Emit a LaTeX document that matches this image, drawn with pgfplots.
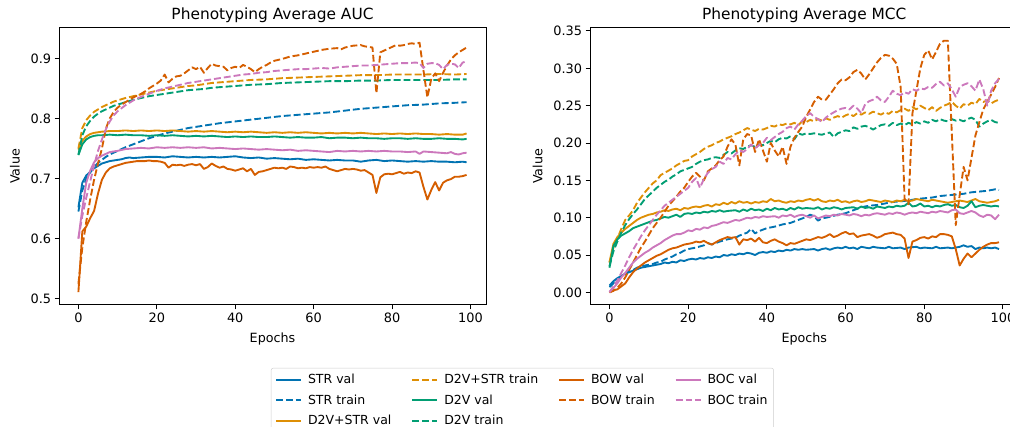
\documentclass[border=0pt]{standalone}
\usepackage{pgfplots}
\pgfplotsset{compat=1.18}
\usepackage{fontspec}
\setmainfont{DejaVu Sans}
\definecolor{cSTR}{HTML}{0173B2}
\definecolor{cDS}{HTML}{DE8F05}
\definecolor{cDV}{HTML}{029E73}
\definecolor{cBOW}{HTML}{D55E00}
\definecolor{cBOC}{HTML}{CC78BC}
\pgfplotsset{
  val/.style={line width=1.875pt, line join=round},
  trn/.style={line width=1.875pt, line join=round, dash pattern=on 6.9pt off 3pt},
  mystyle/.style={
    scale only axis, height=277pt,
    anchor=south west,
    axis line style={line width=1pt, black},
    tick style={line width=1pt, black},
    major tick length=4.4pt,
    tick align=outside, tick pos=left,
    xmin=-4.95, xmax=103.95,
    xtick={0,20,40,60,80,100},
    /pgf/number format/assume math mode=true,
    tick label style={font=\fontsize{12.9}{15}\selectfont},
    label style={font=\fontsize{12.7}{15}\selectfont},
    xlabel style={yshift=-3pt},
    ylabel style={yshift=4pt},
    title style={font=\fontsize{15.4}{18}\selectfont, yshift=-4pt},
    xlabel={Epochs}, ylabel={Value},
    every axis plot/.append style={no markers},
  }
}
\begin{document}
\begin{tikzpicture}[x=1pt,y=1pt]
\useasboundingbox (0,0) rectangle (1010,427);
\clip (0,0) rectangle (1010,427);
\begin{axis}[mystyle, at={(59pt,122pt)}, width=427pt,
  ymin=0.4895, ymax=0.9505, ytick={0.5,0.6,0.7,0.8,0.9},
  yticklabel style={/pgf/number format/.cd, fixed, precision=1},
  title={Phenotyping Average AUC}]
% STR val
\addplot[val, cSTR] coordinates {(0,0.652)(1,0.693)(2,0.705)(3,0.711)(4,0.717)(5,0.721)(6,0.725)(7,0.727)(8,0.729)(9,0.730)(10,0.731)(11,0.732)(12,0.734)(13,0.735)(14,0.734)(16,0.735)(18,0.736)(20,0.736)(22,0.735)(24,0.737)(26,0.736)(28,0.735)(30,0.736)(32,0.735)(34,0.736)(36,0.735)(38,0.736)(40,0.737)(42,0.735)(44,0.734)(46,0.735)(48,0.733)(50,0.734)(52,0.733)(54,0.732)(56,0.733)(58,0.731)(60,0.732)(62,0.731)(64,0.730)(66,0.731)(68,0.730)(70,0.730)(72,0.728)(74,0.730)(76,0.731)(78,0.729)(80,0.730)(82,0.729)(84,0.728)(86,0.729)(88,0.728)(90,0.729)(92,0.728)(94,0.728)(96,0.727)(98,0.728)(99,0.727)};
% STR train
\addplot[trn, cSTR] coordinates {(0,0.645)(1,0.680)(2,0.700)(3,0.710)(4,0.719)(5,0.726)(6,0.731)(7,0.736)(8,0.740)(9,0.743)(10,0.746)(12,0.752)(14,0.757)(16,0.762)(18,0.767)(20,0.771)(22,0.775)(24,0.778)(26,0.781)(28,0.784)(30,0.786)(32,0.788)(34,0.790)(36,0.792)(40,0.795)(44,0.798)(48,0.801)(52,0.804)(56,0.806)(60,0.808)(64,0.810)(68,0.813)(72,0.816)(76,0.818)(80,0.820)(84,0.822)(88,0.823)(92,0.825)(96,0.826)(99,0.827)};
% D2V+STR val
\addplot[val, cDS] coordinates {(0,0.748)(1,0.763)(2,0.770)(3,0.774)(4,0.776)(5,0.777)(6,0.778)(8,0.779)(10,0.779)(12,0.780)(14,0.779)(16,0.780)(18,0.779)(20,0.780)(22,0.779)(24,0.780)(26,0.779)(28,0.778)(30,0.779)(32,0.778)(34,0.779)(36,0.778)(38,0.777)(40,0.778)(42,0.777)(44,0.778)(46,0.777)(48,0.776)(50,0.777)(52,0.776)(54,0.777)(56,0.776)(58,0.777)(60,0.776)(62,0.775)(64,0.776)(66,0.775)(68,0.776)(70,0.775)(72,0.776)(74,0.775)(76,0.774)(78,0.775)(80,0.774)(82,0.775)(84,0.774)(86,0.775)(88,0.774)(90,0.774)(92,0.773)(94,0.774)(96,0.773)(98,0.773)(99,0.775)};
% D2V+STR train
\addplot[trn, cDS] coordinates {(0,0.750)(1,0.784)(2,0.797)(3,0.805)(4,0.811)(5,0.815)(6,0.819)(7,0.822)(8,0.825)(9,0.828)(10,0.830)(12,0.834)(14,0.837)(16,0.840)(18,0.843)(20,0.846)(22,0.848)(24,0.850)(26,0.852)(28,0.854)(30,0.855)(32,0.857)(34,0.859)(36,0.860)(38,0.861)(40,0.862)(44,0.864)(48,0.865)(52,0.867)(56,0.868)(60,0.869)(64,0.870)(68,0.871)(72,0.872)(76,0.872)(80,0.873)(84,0.873)(88,0.873)(92,0.874)(96,0.873)(99,0.874)};
% D2V val
\addplot[val, cDV] coordinates {(0,0.739)(1,0.757)(2,0.765)(3,0.769)(4,0.771)(5,0.772)(6,0.772)(8,0.773)(10,0.772)(12,0.773)(14,0.772)(16,0.772)(18,0.771)(20,0.772)(22,0.771)(24,0.772)(26,0.771)(28,0.770)(30,0.771)(32,0.770)(34,0.771)(36,0.770)(38,0.769)(40,0.770)(42,0.769)(44,0.770)(46,0.769)(48,0.769)(50,0.770)(52,0.769)(54,0.768)(56,0.769)(58,0.768)(60,0.768)(62,0.769)(64,0.767)(66,0.768)(68,0.768)(70,0.767)(72,0.768)(74,0.767)(76,0.767)(78,0.766)(80,0.767)(82,0.767)(84,0.766)(86,0.767)(88,0.766)(90,0.766)(92,0.767)(94,0.766)(96,0.766)(98,0.765)(99,0.766)};
% D2V train
\addplot[trn, cDV] coordinates {(0,0.740)(1,0.772)(2,0.787)(3,0.796)(4,0.803)(5,0.808)(6,0.812)(7,0.815)(8,0.818)(9,0.821)(10,0.823)(12,0.827)(14,0.831)(16,0.834)(18,0.837)(20,0.839)(22,0.841)(24,0.843)(26,0.845)(28,0.847)(30,0.848)(32,0.849)(34,0.851)(36,0.852)(40,0.854)(44,0.856)(48,0.857)(52,0.859)(56,0.860)(60,0.861)(64,0.862)(68,0.862)(72,0.863)(76,0.863)(80,0.864)(84,0.864)(88,0.864)(92,0.864)(96,0.865)(99,0.865)};
% BOW val
\addplot[val, cBOW] coordinates {(0,0.511)(1,0.612)(2,0.620)(3,0.634)(4,0.646)(5,0.675)(6,0.698)(7,0.710)(8,0.717)(9,0.720)(10,0.722)(11,0.724)(12,0.726)(13,0.727)(14,0.728)(15,0.729)(16,0.729)(17,0.729)(18,0.730)(19,0.729)(20,0.729)(21,0.728)(22,0.726)(23,0.718)(24,0.723)(25,0.722)(26,0.723)(27,0.721)(28,0.723)(29,0.724)(30,0.722)(31,0.724)(32,0.716)(33,0.719)(34,0.725)(35,0.721)(36,0.718)(37,0.720)(38,0.716)(39,0.715)(40,0.713)(41,0.715)(42,0.717)(43,0.712)(44,0.716)(45,0.706)(46,0.711)(47,0.712)(48,0.714)(49,0.716)(50,0.718)(51,0.717)(52,0.718)(53,0.716)(54,0.720)(55,0.719)(56,0.717)(57,0.718)(58,0.717)(59,0.719)(60,0.718)(61,0.719)(62,0.718)(63,0.720)(64,0.716)(65,0.714)(66,0.712)(67,0.714)(68,0.716)(69,0.715)(70,0.716)(71,0.715)(72,0.713)(73,0.714)(74,0.710)(75,0.706)(76,0.676)(77,0.702)(78,0.707)(79,0.708)(80,0.707)(81,0.709)(82,0.711)(83,0.708)(84,0.710)(85,0.709)(86,0.712)(87,0.710)(88,0.686)(89,0.665)(90,0.681)(91,0.694)(92,0.680)(93,0.693)(94,0.697)(95,0.699)(96,0.703)(97,0.703)(98,0.704)(99,0.706)};
% BOW train
\addplot[trn, cBOW] coordinates {(0,0.525)(1,0.585)(2,0.628)(3,0.665)(4,0.698)(5,0.725)(6,0.750)(7,0.783)(8,0.800)(9,0.811)(10,0.818)(11,0.823)(12,0.827)(13,0.831)(14,0.835)(15,0.838)(16,0.841)(17,0.845)(18,0.850)(19,0.854)(20,0.858)(21,0.863)(22,0.873)(23,0.860)(24,0.866)(25,0.870)(26,0.871)(27,0.875)(28,0.880)(29,0.885)(30,0.882)(31,0.886)(32,0.876)(33,0.884)(34,0.891)(35,0.888)(36,0.887)(37,0.886)(38,0.880)(39,0.884)(40,0.886)(41,0.884)(42,0.889)(43,0.886)(44,0.882)(45,0.877)(46,0.882)(47,0.886)(48,0.889)(49,0.893)(50,0.896)(52,0.899)(54,0.903)(56,0.905)(58,0.908)(60,0.911)(62,0.914)(64,0.916)(66,0.917)(67,0.915)(68,0.918)(70,0.921)(72,0.922)(73,0.920)(74,0.919)(75,0.918)(76,0.842)(77,0.910)(78,0.913)(79,0.916)(80,0.919)(81,0.922)(82,0.921)(83,0.922)(84,0.924)(85,0.925)(86,0.924)(87,0.926)(88,0.880)(89,0.835)(90,0.866)(91,0.875)(92,0.862)(93,0.876)(94,0.888)(95,0.898)(96,0.905)(97,0.910)(98,0.914)(99,0.918)};
% BOC val
\addplot[val, cBOC] coordinates {(0,0.600)(1,0.650)(2,0.693)(3,0.713)(4,0.727)(5,0.734)(6,0.738)(7,0.741)(8,0.744)(9,0.745)(10,0.746)(12,0.749)(14,0.750)(16,0.751)(18,0.750)(20,0.752)(22,0.751)(24,0.752)(26,0.751)(28,0.752)(30,0.751)(32,0.752)(34,0.750)(36,0.751)(38,0.750)(40,0.749)(42,0.750)(44,0.749)(46,0.748)(48,0.749)(50,0.748)(52,0.747)(54,0.748)(56,0.746)(58,0.747)(60,0.746)(62,0.745)(64,0.744)(66,0.746)(68,0.745)(70,0.746)(72,0.745)(74,0.746)(76,0.745)(78,0.746)(80,0.745)(82,0.745)(84,0.744)(86,0.745)(87,0.741)(88,0.745)(90,0.744)(92,0.743)(94,0.742)(95,0.744)(96,0.741)(97,0.740)(98,0.742)(99,0.743)};
% BOC train
\addplot[trn, cBOC] coordinates {(0,0.600)(1,0.638)(2,0.668)(3,0.695)(4,0.722)(5,0.746)(6,0.765)(7,0.782)(8,0.795)(9,0.805)(10,0.812)(11,0.817)(12,0.822)(13,0.826)(14,0.830)(16,0.836)(18,0.841)(20,0.846)(22,0.850)(24,0.853)(26,0.856)(28,0.859)(30,0.861)(32,0.863)(34,0.865)(36,0.867)(38,0.869)(40,0.871)(42,0.873)(44,0.874)(46,0.876)(48,0.877)(50,0.879)(52,0.880)(54,0.881)(56,0.882)(58,0.882)(60,0.883)(62,0.884)(64,0.883)(66,0.885)(68,0.886)(70,0.887)(72,0.888)(74,0.888)(76,0.889)(78,0.890)(80,0.891)(82,0.892)(84,0.892)(86,0.893)(87,0.892)(88,0.884)(89,0.891)(90,0.892)(91,0.892)(92,0.889)(93,0.882)(94,0.889)(95,0.891)(96,0.890)(97,0.884)(98,0.893)(99,0.895)};
\end{axis}
\begin{axis}[mystyle, at={(590pt,122pt)}, width=428.5pt,
  ymin=-0.0169, ymax=0.354, ytick={0,0.05,0.10,0.15,0.20,0.25,0.30,0.35},
  yticklabel style={/pgf/number format/.cd, fixed, fixed zerofill, precision=2},
  title={Phenotyping Average MCC},
  legend columns=4, legend cell align=left,
  legend image code/.code={\draw[#1] (0pt,0pt) -- (25pt,0pt);},
  legend style={at={(-0.7445,-0.2274)}, anchor=north west, draw=black!20, rounded corners=2pt, fill=white,
    font=\fontsize{12.5}{15}\selectfont, inner xsep=4pt, inner ysep=4pt, row sep=5.5pt,
    /tikz/every odd column/.append style={column sep=4pt},
    /tikz/every even column/.append style={column sep=18pt}}]
% STR val
\addplot[val, cSTR, forget plot] coordinates {(0,0.009)(1,0.015)(2,0.019)(3,0.022)(4,0.025)(5,0.027)(6,0.029)(7,0.031)(8,0.033)(9,0.034)(10,0.035)(11,0.036)(12,0.037)(13,0.038)(14,0.040)(15,0.039)(16,0.041)(17,0.040)(18,0.043)(19,0.042)(20,0.044)(21,0.045)(22,0.044)(23,0.046)(24,0.045)(25,0.047)(26,0.046)(27,0.048)(28,0.047)(29,0.050)(30,0.049)(31,0.051)(32,0.050)(33,0.052)(34,0.051)(35,0.053)(36,0.052)(37,0.050)(38,0.053)(39,0.054)(40,0.053)(41,0.055)(42,0.054)(43,0.056)(44,0.055)(45,0.057)(46,0.056)(47,0.058)(48,0.057)(49,0.058)(50,0.057)(52,0.058)(53,0.056)(54,0.058)(55,0.059)(56,0.057)(57,0.059)(58,0.060)(59,0.059)(60,0.061)(61,0.059)(62,0.060)(63,0.058)(64,0.061)(65,0.060)(66,0.059)(67,0.061)(68,0.060)(70,0.059)(71,0.061)(72,0.059)(74,0.060)(75,0.058)(76,0.060)(78,0.061)(79,0.059)(80,0.060)(82,0.059)(83,0.061)(84,0.059)(86,0.060)(87,0.059)(88,0.060)(89,0.061)(90,0.063)(91,0.061)(92,0.062)(93,0.058)(94,0.060)(95,0.059)(96,0.060)(97,0.059)(98,0.060)(99,0.058)};
% STR train
\addplot[trn, cSTR, forget plot] coordinates {(0,0.007)(1,0.012)(2,0.017)(3,0.022)(4,0.025)(5,0.028)(6,0.030)(7,0.033)(8,0.035)(9,0.036)(10,0.037)(11,0.038)(12,0.040)(13,0.041)(14,0.044)(15,0.046)(16,0.048)(17,0.051)(18,0.053)(19,0.056)(20,0.058)(22,0.060)(24,0.063)(25,0.066)(26,0.064)(28,0.068)(30,0.071)(32,0.073)(33,0.076)(34,0.078)(35,0.080)(36,0.085)(37,0.079)(38,0.082)(40,0.086)(42,0.088)(44,0.091)(46,0.093)(48,0.097)(50,0.101)(51,0.104)(52,0.102)(53,0.096)(54,0.099)(56,0.101)(58,0.104)(60,0.106)(62,0.110)(63,0.112)(64,0.114)(66,0.116)(68,0.117)(70,0.119)(72,0.121)(74,0.122)(76,0.123)(78,0.125)(80,0.126)(82,0.127)(84,0.129)(86,0.130)(88,0.131)(90,0.132)(92,0.134)(94,0.135)(96,0.136)(98,0.138)(99,0.137)};
% D2V+STR val
\addplot[val, cDS, forget plot] coordinates {(0,0.040)(1,0.065)(2,0.074)(3,0.080)(4,0.085)(5,0.089)(6,0.093)(7,0.097)(8,0.100)(9,0.102)(10,0.104)(11,0.105)(12,0.107)(13,0.108)(14,0.110)(15,0.109)(16,0.111)(17,0.112)(18,0.110)(19,0.113)(20,0.112)(21,0.114)(22,0.115)(23,0.114)(24,0.116)(25,0.117)(26,0.115)(27,0.118)(28,0.117)(29,0.120)(30,0.118)(31,0.121)(32,0.119)(33,0.122)(34,0.120)(35,0.121)(36,0.119)(37,0.121)(38,0.120)(39,0.122)(40,0.121)(41,0.125)(42,0.122)(43,0.123)(44,0.121)(45,0.120)(46,0.122)(47,0.121)(48,0.123)(49,0.122)(50,0.124)(51,0.125)(52,0.123)(53,0.125)(54,0.122)(55,0.121)(56,0.123)(57,0.122)(58,0.124)(59,0.121)(60,0.122)(61,0.120)(62,0.122)(63,0.123)(64,0.121)(65,0.122)(66,0.124)(67,0.123)(68,0.122)(69,0.121)(70,0.123)(71,0.122)(72,0.121)(73,0.123)(74,0.122)(75,0.124)(76,0.122)(77,0.123)(78,0.125)(79,0.124)(80,0.123)(81,0.122)(82,0.124)(83,0.123)(84,0.122)(85,0.121)(86,0.120)(87,0.121)(88,0.122)(89,0.123)(90,0.122)(91,0.121)(92,0.123)(93,0.125)(94,0.122)(95,0.121)(96,0.120)(97,0.121)(98,0.122)(99,0.124)};
% D2V+STR train
\addplot[trn, cDS, forget plot] coordinates {(0,0.040)(1,0.060)(2,0.072)(3,0.085)(4,0.097)(5,0.103)(6,0.110)(7,0.120)(8,0.127)(9,0.134)(10,0.140)(11,0.146)(12,0.150)(13,0.157)(14,0.160)(15,0.163)(16,0.166)(17,0.170)(18,0.173)(19,0.176)(20,0.177)(21,0.182)(22,0.185)(23,0.188)(24,0.192)(25,0.195)(26,0.197)(27,0.200)(28,0.202)(29,0.205)(30,0.207)(31,0.209)(32,0.212)(33,0.214)(34,0.217)(35,0.220)(36,0.218)(37,0.216)(38,0.219)(39,0.218)(40,0.220)(41,0.223)(42,0.222)(43,0.225)(44,0.224)(45,0.226)(46,0.225)(47,0.227)(48,0.224)(49,0.229)(50,0.228)(51,0.231)(52,0.229)(53,0.232)(54,0.230)(55,0.233)(56,0.231)(57,0.234)(58,0.236)(59,0.234)(60,0.237)(61,0.239)(62,0.236)(63,0.240)(64,0.238)(65,0.241)(66,0.239)(67,0.242)(68,0.240)(69,0.238)(70,0.241)(71,0.239)(72,0.243)(73,0.241)(74,0.244)(75,0.246)(76,0.243)(77,0.248)(78,0.245)(79,0.250)(80,0.247)(81,0.244)(82,0.248)(83,0.243)(84,0.247)(85,0.250)(86,0.252)(87,0.255)(88,0.250)(89,0.246)(90,0.252)(91,0.250)(92,0.254)(93,0.252)(94,0.259)(95,0.255)(96,0.257)(97,0.253)(98,0.256)(99,0.258)};
% D2V val
\addplot[val, cDV, forget plot] coordinates {(0,0.033)(1,0.062)(2,0.071)(3,0.076)(4,0.079)(5,0.082)(6,0.086)(7,0.088)(8,0.090)(9,0.092)(10,0.094)(11,0.096)(12,0.097)(13,0.099)(14,0.101)(15,0.100)(16,0.102)(17,0.104)(18,0.101)(19,0.105)(20,0.106)(21,0.105)(22,0.107)(23,0.106)(24,0.108)(25,0.107)(26,0.109)(27,0.108)(28,0.110)(29,0.108)(30,0.109)(32,0.110)(33,0.108)(34,0.111)(35,0.109)(36,0.112)(37,0.110)(38,0.111)(39,0.109)(40,0.112)(41,0.110)(42,0.113)(43,0.111)(44,0.112)(45,0.110)(46,0.113)(47,0.111)(48,0.114)(49,0.112)(50,0.113)(52,0.112)(53,0.114)(54,0.111)(55,0.113)(56,0.112)(57,0.114)(58,0.113)(59,0.111)(60,0.113)(62,0.114)(63,0.112)(64,0.115)(65,0.113)(66,0.114)(67,0.112)(68,0.115)(69,0.114)(70,0.113)(71,0.115)(72,0.114)(73,0.116)(74,0.115)(75,0.116)(76,0.120)(77,0.115)(78,0.116)(79,0.119)(80,0.115)(81,0.116)(82,0.114)(83,0.116)(84,0.115)(85,0.117)(86,0.118)(87,0.116)(88,0.117)(89,0.114)(90,0.113)(91,0.116)(92,0.122)(93,0.114)(94,0.116)(95,0.117)(96,0.116)(97,0.115)(98,0.116)(99,0.115)};
% D2V train
\addplot[trn, cDV, forget plot] coordinates {(0,0.035)(1,0.055)(2,0.068)(3,0.080)(4,0.090)(5,0.098)(6,0.105)(7,0.111)(8,0.118)(9,0.125)(10,0.130)(11,0.135)(12,0.140)(13,0.144)(14,0.148)(15,0.151)(16,0.155)(17,0.158)(18,0.162)(19,0.164)(20,0.166)(21,0.168)(22,0.172)(23,0.175)(24,0.177)(25,0.178)(26,0.180)(27,0.181)(28,0.180)(29,0.184)(30,0.188)(31,0.186)(32,0.190)(33,0.193)(34,0.192)(35,0.195)(36,0.197)(37,0.195)(38,0.198)(39,0.197)(40,0.200)(41,0.203)(42,0.201)(43,0.205)(44,0.207)(45,0.206)(46,0.209)(47,0.205)(48,0.213)(49,0.211)(50,0.213)(51,0.212)(52,0.213)(53,0.212)(54,0.211)(55,0.213)(56,0.214)(57,0.208)(58,0.213)(59,0.215)(60,0.217)(61,0.216)(62,0.221)(63,0.219)(64,0.222)(65,0.223)(66,0.221)(67,0.218)(68,0.221)(69,0.224)(70,0.225)(71,0.223)(72,0.227)(73,0.224)(74,0.226)(75,0.224)(76,0.227)(77,0.225)(78,0.228)(79,0.226)(80,0.229)(81,0.227)(82,0.231)(83,0.229)(84,0.232)(85,0.230)(86,0.229)(87,0.232)(88,0.230)(89,0.231)(90,0.229)(91,0.232)(92,0.234)(93,0.231)(94,0.222)(95,0.226)(96,0.229)(97,0.231)(98,0.228)(99,0.227)};
% BOW val
\addplot[val, cBOW, forget plot] coordinates {(0,0.000)(1,0.003)(2,0.004)(3,0.008)(4,0.012)(5,0.020)(6,0.027)(7,0.032)(8,0.036)(9,0.040)(10,0.043)(11,0.046)(12,0.049)(13,0.051)(14,0.054)(15,0.057)(16,0.059)(17,0.060)(18,0.062)(19,0.064)(20,0.065)(21,0.066)(22,0.068)(23,0.067)(24,0.069)(25,0.066)(26,0.064)(27,0.067)(28,0.070)(29,0.072)(30,0.074)(31,0.073)(32,0.074)(33,0.064)(34,0.071)(35,0.070)(36,0.072)(37,0.068)(38,0.073)(39,0.067)(40,0.066)(41,0.069)(42,0.071)(43,0.068)(44,0.066)(45,0.063)(46,0.066)(47,0.065)(48,0.067)(49,0.069)(50,0.071)(51,0.070)(52,0.072)(53,0.074)(54,0.073)(55,0.075)(56,0.078)(57,0.074)(58,0.076)(59,0.079)(60,0.081)(61,0.078)(62,0.079)(63,0.074)(64,0.076)(65,0.077)(66,0.078)(67,0.076)(68,0.073)(69,0.075)(70,0.078)(71,0.079)(72,0.080)(73,0.078)(74,0.077)(75,0.072)(76,0.046)(77,0.068)(78,0.070)(79,0.073)(80,0.074)(81,0.072)(82,0.075)(83,0.074)(84,0.078)(85,0.078)(86,0.077)(87,0.075)(88,0.058)(89,0.036)(90,0.045)(91,0.052)(92,0.047)(93,0.052)(94,0.057)(95,0.061)(96,0.064)(97,0.066)(98,0.066)(99,0.067)};
% BOW train
\addplot[trn, cBOW, forget plot] coordinates {(0,0.000)(1,0.002)(2,0.006)(3,0.012)(4,0.020)(5,0.030)(6,0.040)(7,0.050)(8,0.060)(9,0.068)(10,0.077)(11,0.086)(12,0.093)(13,0.100)(14,0.108)(15,0.116)(16,0.122)(17,0.128)(18,0.135)(19,0.140)(20,0.148)(21,0.155)(22,0.160)(23,0.155)(24,0.150)(25,0.162)(26,0.166)(27,0.170)(28,0.177)(29,0.182)(30,0.195)(31,0.205)(32,0.198)(33,0.170)(34,0.205)(35,0.212)(36,0.210)(37,0.188)(38,0.205)(39,0.190)(40,0.175)(41,0.200)(42,0.190)(43,0.182)(44,0.195)(45,0.172)(46,0.195)(47,0.207)(48,0.215)(49,0.222)(50,0.235)(51,0.245)(52,0.255)(53,0.262)(54,0.258)(55,0.258)(56,0.265)(57,0.272)(58,0.280)(59,0.285)(60,0.284)(61,0.288)(62,0.295)(63,0.298)(64,0.293)(65,0.285)(66,0.292)(67,0.300)(68,0.308)(69,0.314)(70,0.318)(71,0.317)(72,0.313)(73,0.306)(74,0.275)(75,0.125)(76,0.118)(77,0.240)(78,0.270)(79,0.300)(80,0.318)(81,0.324)(82,0.312)(83,0.322)(84,0.333)(85,0.337)(86,0.337)(88,0.090)(89,0.130)(90,0.168)(91,0.150)(92,0.180)(93,0.210)(94,0.228)(95,0.245)(96,0.255)(97,0.265)(98,0.275)(99,0.287)};
% BOC val
\addplot[val, cBOC, forget plot] coordinates {(0,0.001)(1,0.006)(2,0.012)(3,0.020)(4,0.026)(5,0.033)(6,0.040)(7,0.045)(8,0.049)(9,0.053)(10,0.056)(11,0.060)(12,0.063)(13,0.066)(14,0.070)(15,0.073)(16,0.076)(17,0.078)(18,0.078)(19,0.080)(20,0.083)(21,0.082)(22,0.085)(23,0.084)(24,0.087)(25,0.086)(26,0.089)(27,0.090)(28,0.092)(29,0.094)(30,0.093)(31,0.095)(32,0.097)(33,0.096)(34,0.098)(35,0.100)(36,0.099)(37,0.101)(38,0.100)(39,0.102)(40,0.101)(42,0.102)(43,0.100)(44,0.103)(45,0.102)(46,0.104)(47,0.101)(48,0.103)(49,0.104)(50,0.102)(51,0.100)(52,0.103)(53,0.099)(54,0.101)(55,0.103)(56,0.102)(57,0.104)(58,0.103)(59,0.105)(60,0.104)(61,0.103)(62,0.105)(63,0.104)(64,0.102)(65,0.104)(66,0.103)(67,0.105)(68,0.106)(69,0.105)(70,0.104)(71,0.106)(72,0.105)(73,0.107)(74,0.106)(75,0.104)(76,0.106)(77,0.107)(78,0.106)(79,0.108)(80,0.107)(81,0.106)(82,0.108)(83,0.107)(84,0.109)(85,0.108)(86,0.107)(87,0.110)(88,0.111)(89,0.106)(90,0.105)(91,0.107)(92,0.109)(93,0.107)(94,0.103)(95,0.101)(96,0.104)(97,0.103)(98,0.098)(99,0.104)};
% BOC train
\addplot[trn, cBOC, forget plot] coordinates {(0,0.000)(1,0.008)(2,0.016)(3,0.026)(4,0.036)(5,0.047)(6,0.057)(7,0.066)(8,0.075)(9,0.083)(10,0.090)(11,0.097)(12,0.104)(13,0.110)(14,0.116)(15,0.120)(16,0.124)(17,0.128)(18,0.132)(19,0.136)(20,0.140)(21,0.148)(22,0.153)(23,0.140)(24,0.152)(25,0.160)(26,0.165)(27,0.168)(28,0.175)(29,0.172)(30,0.180)(31,0.178)(32,0.185)(33,0.190)(34,0.188)(35,0.192)(36,0.198)(37,0.193)(38,0.197)(39,0.200)(40,0.207)(41,0.204)(42,0.208)(43,0.212)(44,0.215)(45,0.220)(46,0.222)(47,0.218)(48,0.225)(49,0.230)(50,0.236)(51,0.240)(52,0.235)(53,0.232)(54,0.228)(55,0.234)(56,0.238)(57,0.241)(58,0.244)(59,0.246)(60,0.247)(61,0.245)(62,0.250)(63,0.246)(64,0.240)(65,0.252)(66,0.256)(67,0.258)(68,0.262)(69,0.257)(70,0.255)(71,0.262)(72,0.270)(73,0.266)(74,0.264)(75,0.268)(76,0.266)(77,0.272)(78,0.270)(79,0.273)(80,0.272)(81,0.275)(82,0.274)(83,0.279)(84,0.282)(85,0.277)(86,0.280)(87,0.272)(88,0.262)(89,0.275)(90,0.278)(91,0.280)(92,0.276)(93,0.270)(94,0.285)(95,0.272)(96,0.250)(97,0.270)(98,0.280)(99,0.286)};
% legend (matplotlib column-major order)
\addlegendimage{val, cSTR}\addlegendentry{STR val}
\addlegendimage{trn, cDS}\addlegendentry{D2V+STR train}
\addlegendimage{val, cBOW}\addlegendentry{BOW val}
\addlegendimage{val, cBOC}\addlegendentry{BOC val}
\addlegendimage{trn, cSTR}\addlegendentry{STR train}
\addlegendimage{val, cDV}\addlegendentry{D2V val}
\addlegendimage{trn, cBOW}\addlegendentry{BOW train}
\addlegendimage{trn, cBOC}\addlegendentry{BOC train}
\addlegendimage{val, cDS}\addlegendentry{D2V+STR val}
\addlegendimage{trn, cDV}\addlegendentry{D2V train}
\end{axis}
\end{tikzpicture}
\end{document}
